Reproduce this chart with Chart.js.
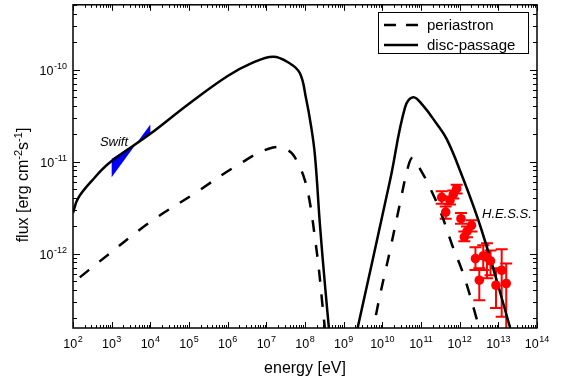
<!DOCTYPE html>
<html lang="en">
<head>
<meta charset="UTF-8">
<title>SED</title>
<script src="https://cdn.jsdelivr.net/npm/chart.js"></script>
<style>
  body { margin: 0; background: #fff; }
</style>
</head>
<body>
<canvas id="myChart" width="564" height="383"></canvas>
<script>
// disc-passage model, low and high energy humps
const discE1 = [1e2, 1.35e2, 3.1e2, 9.1e2, 1e4, 1e5, 1e6, 3.8e6, 1.5e7, 4e7, 7.4e7, 1.06e8, 1.43e8, 1.81e8, 2.44e8, 3.29e8, 4.43e8];
const discF1 = [2.76e-12, 3.98e-12, 6.2e-12, 9.8e-12, 2.0e-11, 4.25e-11, 8.5e-11, 1.15e-10, 1.38e-10, 1.17e-10, 9.1e-11, 4.9e-11, 2.45e-11, 1.16e-11, 2.02e-12, 4.52e-13, 1.15e-13];
const discE2 = [1.96e9, 1.58e10, 3.85e10, 6.3e10, 1.12e11, 2.54e11, 4.6e11, 1.02e12, 3.7e12, 2.0e13, 2.39e13];
const discF2 = [1.15e-13, 6.2e-12, 3.85e-11, 5.0e-11, 4.07e-11, 2.57e-11, 1.76e-11, 7.98e-12, 1.79e-12, 1.58e-13, 1.15e-13];

// periastron model
const periE1 = [1.5e2, 4.2e2, 9.8e3, 1.26e5, 2.1e6, 1.48e7, 4e7, 6.6e7, 1.0e8, 1.35e8, 1.8e8, 2.3e8, 2.75e8, 3.5e8];
const periF1 = [5.5e-13, 7.8e-13, 2.19e-12, 4.37e-12, 9.5e-12, 1.42e-11, 1.29e-11, 9.5e-12, 6.2e-12, 3.5e-12, 1.5e-12, 6.6e-13, 3.1e-13, 1.15e-13];
const periE2 = [5.7e9, 6.84e9, 1.58e10, 2.86e10, 4.74e10, 6.2e10, 1.0e11, 1.51e11, 3.09e11, 6.7e11, 1.22e12, 2.63e12, 3.78e12];
const periF2 = [1.15e-13, 2.14e-13, 1.08e-12, 3.5e-12, 9.05e-12, 1.1e-11, 7.98e-12, 5.77e-12, 2.95e-12, 1.17e-12, 6.1e-13, 2.09e-13, 1.15e-13];

// H.E.S.S. points with error bars
const hessE  = [3.43e11, 4.35e11, 5.61e11, 6.83e11, 8.36e11, 1.08e12, 1.32e12, 1.55e12, 2.02e12, 2.56e12, 3.22e12, 4.07e12, 5.08e12, 6.27e12, 8.7e12, 1.22e13, 1.6e13];
const hessF  = [4.07e-12, 2.82e-12, 3.78e-12, 4.39e-12, 5.06e-12, 2.39e-12, 1.51e-12, 1.74e-12, 2.02e-12, 8.8e-13, 5.13e-13, 9.44e-13, 9.1e-13, 8.3e-13, 4.52e-13, 6.58e-13, 4.72e-13];
const hessHi = [4.75e-12, 3.25e-12, 4.17e-12, 4.85e-12, 5.6e-12, 2.75e-12, 1.74e-12, 1.97e-12, 2.3e-12, 1.17e-12, 6.9e-13, 1.23e-12, 1.29e-12, 1.08e-12, 6.9e-13, 1.11e-12, 7.8e-13];
const hessLo = [3.47e-12, 2.39e-12, 3.42e-12, 3.97e-12, 4.5e-12, 2.11e-12, 1.36e-12, 1.5e-12, 1.74e-12, 6.6e-13, 3.1e-13, 6.6e-13, 5.37e-13, 5.8e-13, 2.55e-13, 2.05e-13, 1.2e-13];

// Swift bow-tie outline
const swiftE = [1e3, 4.44e3, 1e4, 1e4, 4.44e3, 1e3, 1e3];
const swiftF = [1.07e-11, 1.585e-11, 2.52e-11, 1.96e-11, 1.585e-11, 6.76e-12, 1.07e-11];

// axis labels
const xExps = [2, 3, 4, 5, 6, 7, 8, 9, 10, 11, 12, 13, 14];
const yExps = [-10, -11, -12];
const legendNames = ['periastron', 'disc-passage'];

const pts = (xs, ys) => xs.map((v, i) => ({ x: v, y: ys[i] }));
const FONT = '"Liberation Sans", Arial, sans-serif';

function powText(ctx, x, y, exp, size, align) {
  // draws 10^exp; align 'center' or 'right'
  ctx.font = size + 'px ' + FONT;
  const w1 = ctx.measureText('10').width;
  const es = Math.round(size * 0.7);
  ctx.font = es + 'px ' + FONT;
  const w2 = ctx.measureText(String(exp)).width;
  const tot = w1 + w2 + 0.5;
  let x0 = align === 'right' ? x - tot : x - tot / 2;
  ctx.textAlign = 'left';
  ctx.textBaseline = 'alphabetic';
  ctx.font = size + 'px ' + FONT;
  ctx.fillText('10', x0, y);
  ctx.font = es + 'px ' + FONT;
  ctx.fillText(String(exp), x0 + w1 + 0.5, y - size * 0.45);
}

const errorBars = {
  id: 'errorBars',
  beforeDatasetsDraw(chart) {
    const { ctx, chartArea: a, scales: { x, y } } = chart;
    ctx.save();
    ctx.beginPath();
    ctx.rect(a.left, a.top, a.right - a.left, a.bottom - a.top);
    ctx.clip();
    ctx.strokeStyle = '#ff0000';
    ctx.lineWidth = 2;
    hessE.forEach((e, i) => {
      const px = x.getPixelForValue(e);
      const hi = y.getPixelForValue(hessHi[i]);
      const lo = y.getPixelForValue(hessLo[i]);
      ctx.beginPath();
      ctx.moveTo(px, hi); ctx.lineTo(px, lo);
      ctx.moveTo(px - 6, hi); ctx.lineTo(px + 6, hi);
      ctx.moveTo(px - 6, lo); ctx.lineTo(px + 6, lo);
      ctx.stroke();
    });
    ctx.restore();
  }
};

const deco = {
  id: 'deco',
  afterDraw(chart) {
    const { ctx, chartArea: a, scales: { x, y } } = chart;
    ctx.save();
    ctx.fillStyle = '#000';
    ctx.strokeStyle = '#000';

    // ticks on all four sides
    ctx.lineWidth = 1;
    ctx.beginPath();
    for (let d = 2; d <= 14; d++) {
      for (let m = 1; m <= 9; m++) {
        const v = m * Math.pow(10, d);
        if (v > x.max * 1.0001) break;
        const px = Math.round(x.getPixelForValue(v)) + 0.5;
        const len = m === 1 ? 6 : 3;
        ctx.moveTo(px, a.bottom); ctx.lineTo(px, a.bottom - len);
        ctx.moveTo(px, a.top); ctx.lineTo(px, a.top + len);
      }
    }
    for (let d = -14; d <= -9; d++) {
      for (let m = 1; m <= 9; m++) {
        const v = m * Math.pow(10, d);
        if (v < y.min || v > y.max) continue;
        const py = Math.round(y.getPixelForValue(v)) + 0.5;
        const len = m === 1 ? 7 : 4;
        ctx.moveTo(a.left, py); ctx.lineTo(a.left + len, py);
        ctx.moveTo(a.right, py); ctx.lineTo(a.right - len, py);
      }
    }
    ctx.stroke();

    // frame
    ctx.lineWidth = 1.5;
    ctx.strokeRect(a.left, a.top, a.right - a.left, a.bottom - a.top);

    // tick labels
    xExps.forEach(e => powText(ctx, x.getPixelForValue(Math.pow(10, e)), a.bottom + 20, e, 12.5, 'center'));
    yExps.forEach(e => powText(ctx, a.left - 6, y.getPixelForValue(Math.pow(10, e)) + 5, e, 12.5, 'right'));

    // axis titles
    ctx.font = '16px ' + FONT;
    ctx.textAlign = 'center';
    ctx.fillText('energy [eV]', (a.left + a.right) / 2, 373);

    ctx.save();
    ctx.translate(28, 185);
    ctx.rotate(-Math.PI / 2);
    const parts = [['flux [erg cm', 16, 0], ['-2', 11, -6], ['s', 16, 0], ['-1', 11, -6], [']', 16, 0]];
    let tot = 0;
    parts.forEach(p => { ctx.font = p[1] + 'px ' + FONT; tot += ctx.measureText(p[0]).width; });
    let cx = -tot / 2;
    ctx.textAlign = 'left';
    parts.forEach(p => {
      ctx.font = p[1] + 'px ' + FONT;
      ctx.fillText(p[0], cx, p[2]);
      cx += ctx.measureText(p[0]).width;
    });
    ctx.restore();

    // annotations
    ctx.font = 'italic 13px ' + FONT;
    ctx.textAlign = 'center';
    ctx.fillText('Swift', 114, 146);
    ctx.textAlign = 'left';
    ctx.fillText('H.E.S.S.', 482, 218);

    // legend
    ctx.lineWidth = 1;
    ctx.strokeRect(378.5, 12.5, 150, 41);
    ctx.lineWidth = 2.5;
    ctx.setLineDash([12, 10]);
    ctx.beginPath(); ctx.moveTo(384, 25); ctx.lineTo(418, 25); ctx.stroke();
    ctx.setLineDash([]);
    ctx.beginPath(); ctx.moveTo(384, 45); ctx.lineTo(418, 45); ctx.stroke();
    ctx.font = '15px ' + FONT;
    ctx.fillText(legendNames[0], 427, 30);
    ctx.fillText(legendNames[1], 427, 50);
    ctx.restore();
  }
};

const lineDs = (xs, ys, dash) => ({
  data: pts(xs, ys),
  showLine: true,
  borderColor: '#000',
  borderWidth: 2.5,
  borderDash: dash,
  pointRadius: 0,
  tension: 0.4,
  fill: false,
  order: 2
});

new Chart(document.getElementById('myChart'), {
  type: 'scatter',
  data: {
    datasets: [
      lineDs(discE1, discF1, []),
      lineDs(discE2, discF2, []),
      lineDs(periE1, periF1, [12, 13]),
      lineDs(periE2, periF2, [12, 13]),
      {
        data: pts(swiftE, swiftF),
        showLine: true,
        borderWidth: 0,
        borderColor: '#0000ff',
        backgroundColor: '#0000ff',
        pointRadius: 0,
        fill: 'shape',
        tension: 0,
        order: 5
      },
      {
        data: pts(hessE, hessF),
        pointRadius: 4.8,
        pointBackgroundColor: '#ff0000',
        pointBorderWidth: 0,
        order: 1
      }
    ]
  },
  options: {
    responsive: false,
    animation: false,
    layout: { padding: { left: 73, right: 27, top: 4, bottom: 55 } },
    plugins: { legend: { display: false }, tooltip: { enabled: false } },
    scales: {
      x: { type: 'logarithmic', min: 1e2, max: 1e14, display: false },
      y: { type: 'logarithmic', min: 1.55e-13, max: 5.05e-10, display: false }
    }
  },
  plugins: [errorBars, deco]
});
</script>
</body>
</html>
